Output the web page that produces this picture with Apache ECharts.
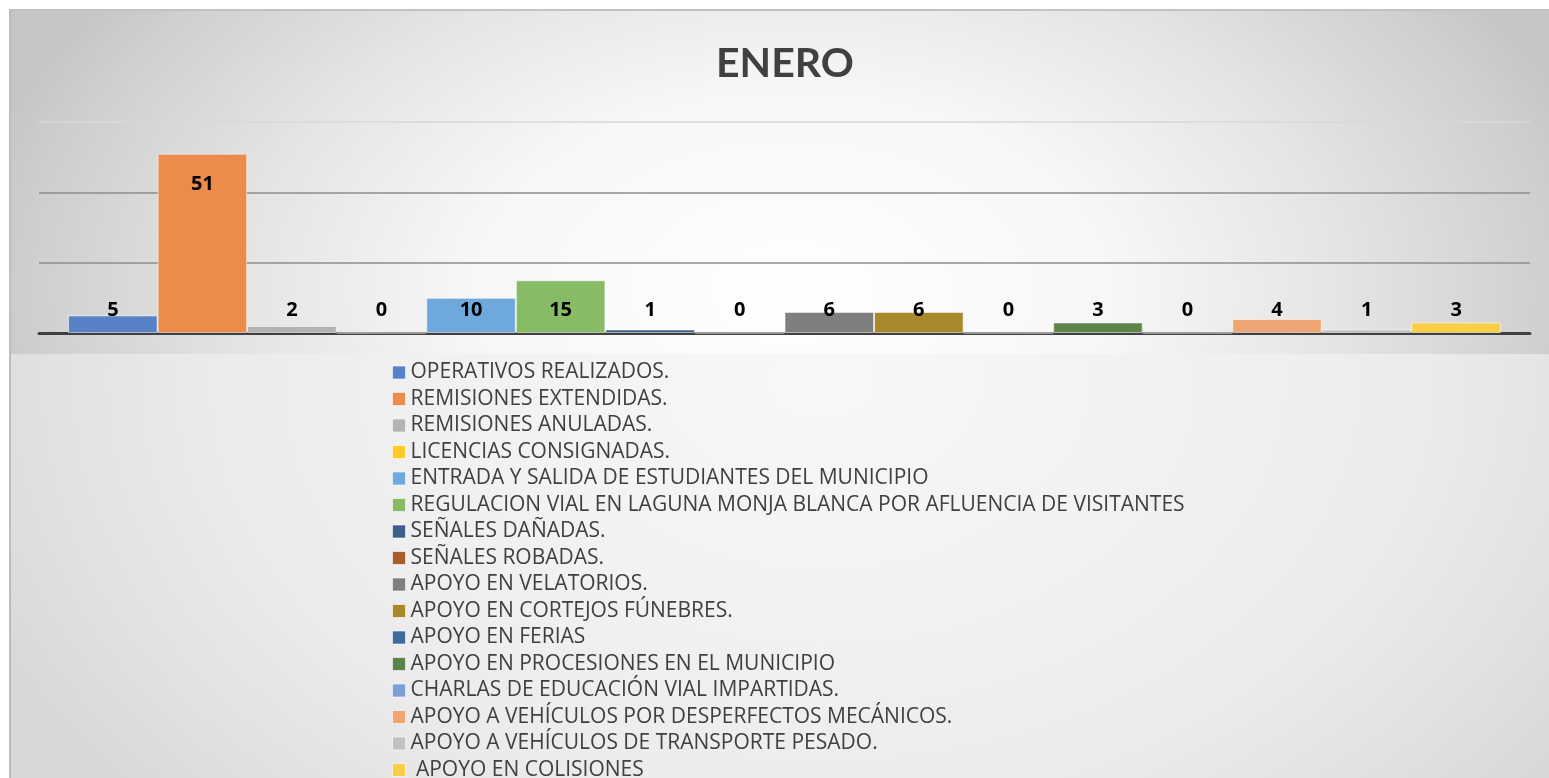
<!DOCTYPE html>
<html>
<head>
<meta charset="utf-8">
<title>ENERO</title>
<script src="https://cdn.jsdelivr.net/npm/echarts@6/dist/echarts.min.js"></script>
<style>
  html, body { margin: 0; padding: 0; background: #ffffff; }
  #wrap { position: relative; width: 1549px; height: 778px; overflow: hidden; }
  .panel { position: absolute; left: 9px; width: 1540px; border-left: 2px solid #bdbdbd; box-sizing: border-box; }
  #top-panel {
    top: 9px; height: 345px; border-top: 2px solid #c2c2c2;
    background: radial-gradient(ellipse 800px 500px at 781px 281px,
      #ffffff 0%, #f7f7f7 40%, #e5e5e5 68%, #cfcfcf 95%, #c5c5c5 105%);
  }
  #bottom-panel {
    top: 354px; height: 424px;
    background: radial-gradient(ellipse 850px 600px at 811px 26px,
      #f8f8f8 0%, #f0f0f0 50%, #ebebeb 72%, #e2e2e2 90%, #d8d8d8 107%);
  }
  #chart { position: absolute; left: 0; top: 0; width: 1549px; height: 778px; }
</style>
</head>
<body>
<div id="wrap">
  <div class="panel" id="top-panel"></div>
  <div class="panel" id="bottom-panel"></div>
  <div id="chart"></div>
</div>
<script>
// Monthly activity report: one category, one bar per activity type.
const categories = ['ENERO'];

const seriesNames = [
  'OPERATIVOS REALIZADOS.',
  'REMISIONES EXTENDIDAS.',
  'REMISIONES ANULADAS.',
  'LICENCIAS CONSIGNADAS.',
  'ENTRADA Y SALIDA DE ESTUDIANTES DEL MUNICIPIO',
  'REGULACION VIAL EN LAGUNA MONJA BLANCA POR AFLUENCIA DE VISITANTES',
  'SEÑALES DAÑADAS.',
  'SEÑALES ROBADAS.',
  'APOYO EN VELATORIOS.',
  'APOYO EN CORTEJOS FÚNEBRES.',
  'APOYO EN FERIAS',
  'APOYO EN PROCESIONES EN EL MUNICIPIO',
  'CHARLAS DE EDUCACIÓN VIAL IMPARTIDAS.',
  'APOYO A VEHÍCULOS POR DESPERFECTOS MECÁNICOS.',
  'APOYO A VEHÍCULOS DE TRANSPORTE PESADO.',
  ' APOYO EN COLISIONES'
];

const seriesValues = [5, 51, 2, 0, 10, 15, 1, 0, 6, 6, 0, 3, 0, 4, 1, 3];

const seriesColors = [
  '#5881c8', '#eb8b4c', '#b3b3b3', '#ffc926', '#6fa8dc', '#88bb66',
  '#3e5e8e', '#a95c2c', '#7f7f7f', '#a8882a', '#3a6b9c', '#5d8549',
  '#7d9fd8', '#f0a674', '#c1c1c1', '#f9cf48'
];

const yTicks = { min: 0, max: 60, interval: 20 };

const chart = echarts.init(document.getElementById('chart'), null, { renderer: 'canvas' });

const series = seriesNames.map((name, i) => {
  const v = seriesValues[i];
  // the tallest bar carries its label inside the top, the rest sit on a common line near the base
  const tall = v > 30;
  return {
    name: name,
    type: 'bar',
    barGap: '0%',
    barCategoryGap: '3.9%',
    itemStyle: {
      color: seriesColors[i],
      borderColor: 'rgba(255,255,255,0.55)',
      borderWidth: 1
    },
    label: {
      show: true,
      position: tall ? 'insideTop' : 'insideBottom',
      distance: tall ? 21 : 13,
      fontFamily: 'Open Sans',
      fontWeight: 'bolder',
      fontSize: 20,
      color: '#000000'
    },
    emphasis: { disabled: true },
    data: [v]
  };
});

chart.setOption({
  animation: false,
  color: seriesColors,
  title: {
    text: 'ENERO',
    left: 711,
    top: 38,
    textStyle: { fontFamily: 'Lato', fontWeight: 'bold', fontSize: 41, color: '#404040' }
  },
  grid: { left: 39, right: 19, top: 122, bottom: 445, containLabel: false },
  xAxis: {
    type: 'category',
    data: categories,
    axisLine: { show: true, lineStyle: { color: '#404040', width: 3 } },
    axisTick: { show: false },
    axisLabel: { show: false }
  },
  yAxis: {
    type: 'value',
    min: yTicks.min,
    max: yTicks.max,
    interval: yTicks.interval,
    axisLine: { show: false },
    axisTick: { show: false },
    axisLabel: { show: false },
    splitLine: { show: true, lineStyle: { color: ['#8c8c8c', '#8c8c8c', '#8c8c8c', '#d8d8d8'], width: 1.5 } }
  },
  legend: {
    orient: 'vertical',
    left: 392,
    top: 362,
    height: 600,
    padding: 0,
    itemWidth: 13,
    itemHeight: 13,
    itemGap: 5.5,
    icon: 'rect',
    selectedMode: false,
    itemStyle: { borderColor: 'rgba(255,255,255,0.6)', borderWidth: 1 },
    textStyle: { fontFamily: 'Open Sans', fontSize: 21, color: '#404040', lineHeight: 21 },
    data: seriesNames
  },
  series: series
});
</script>
</body>
</html>
